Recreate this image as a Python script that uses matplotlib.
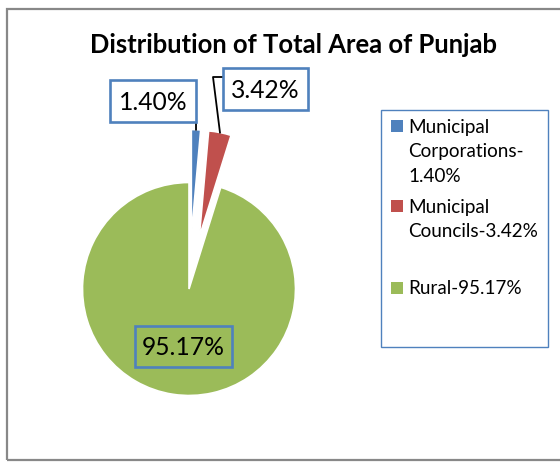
import matplotlib
matplotlib.use("Agg")
import matplotlib.pyplot as plt
import matplotlib.patches as mpatches
import numpy as np

plt.rcParams['font.family'] = ['Lato', 'DejaVu Sans']

# 数据
categories = ['Municipal Corporations', 'Municipal Councils', 'Rural']
shares = [1.40, 3.42, 95.17]
colors = ['#4F81BD', '#C0504D', '#9BBB59']
legend_labels = ['Municipal\nCorporations-\n1.40%', 'Municipal\nCouncils-3.42%', 'Rural-95.17%']
pct_labels = ['1.40%', '3.42%', '95.17%']
title = 'Distribution of Total Area of Punjab'

W, H = 560, 462
fig = plt.figure(figsize=(W / 100, H / 100), dpi=100)
ax = fig.add_axes([0, 0, 1, 1])

# 饼图（坐标按像素）
wedges, _ = ax.pie(shares, colors=colors, startangle=90, counterclock=False,
                   center=(189, H - 289), radius=106.5, explode=(53, 53, 0),
                   wedgeprops=dict(edgecolor='white', linewidth=1.2), frame=True)
ax.set_xlim(0, W)
ax.set_ylim(0, H)
ax.set_aspect('equal')
ax.axis('off')

# 外框
ax.add_patch(mpatches.Rectangle((7, H - 460), 560, 451, fill=False,
                                edgecolor='#888888', linewidth=1.6, clip_on=False))

# 标题，按参考宽度缩放字号
t = ax.text(293, H - 53, title, ha='center', va='baseline', fontsize=16,
            fontweight='bold')
fig.canvas.draw()
tw = t.get_window_extent().width
t.set_fontsize(16 * 409 / tw)


def tip(w):
    a = np.deg2rad((w.theta1 + w.theta2) / 2)
    return w.center[0] + w.r * np.cos(a), w.center[1] + w.r * np.sin(a)


def label_box(x0, y0, x1, y1, face):
    ax.add_patch(mpatches.Rectangle((x0, H - y1), x1 - x0, y1 - y0, facecolor=face,
                                    edgecolor='#4F81BD', linewidth=1.9, zorder=3))


# 数据标签
label_box(110, 80, 196, 122, 'white')
ax.text(153, H - 110, pct_labels[0], ha='center', va='baseline', fontsize=17.7, zorder=4)
bx, by = tip(wedges[0])
ax.plot([196, bx], [H - 110, by], color='black', lw=1.3, zorder=2)

label_box(223, 68, 308, 110, 'white')
ax.text(265.5, H - 98, pct_labels[1], ha='center', va='baseline', fontsize=17.7, zorder=4)
rx, ry = tip(wedges[1])
ax.plot([223, 213, rx], [H - 77, H - 77, ry], color='black', lw=1.3, zorder=2)

label_box(135, 326, 232, 367, '#9BBB59')
ax.text(183, H - 355, pct_labels[2], ha='center', va='baseline', fontsize=17.7, zorder=4)

# 图例
ax.add_patch(mpatches.Rectangle((381, H - 347), 167, 237, fill=False,
                                edgecolor='#4F81BD', linewidth=1.0))
entry_y = [126, 206, 288]
for lab, c, y0 in zip(legend_labels, colors, entry_y):
    ax.add_patch(mpatches.Rectangle((391, H - y0 - 6), 12, 12, facecolor=c, edgecolor='none'))
    for k, line in enumerate(lab.split('\n')):
        ax.text(408, H - (y0 + 6.5 + 24.5 * k), line, ha='left', va='baseline', fontsize=13.6)

fig.savefig('out.png', dpi=100)
